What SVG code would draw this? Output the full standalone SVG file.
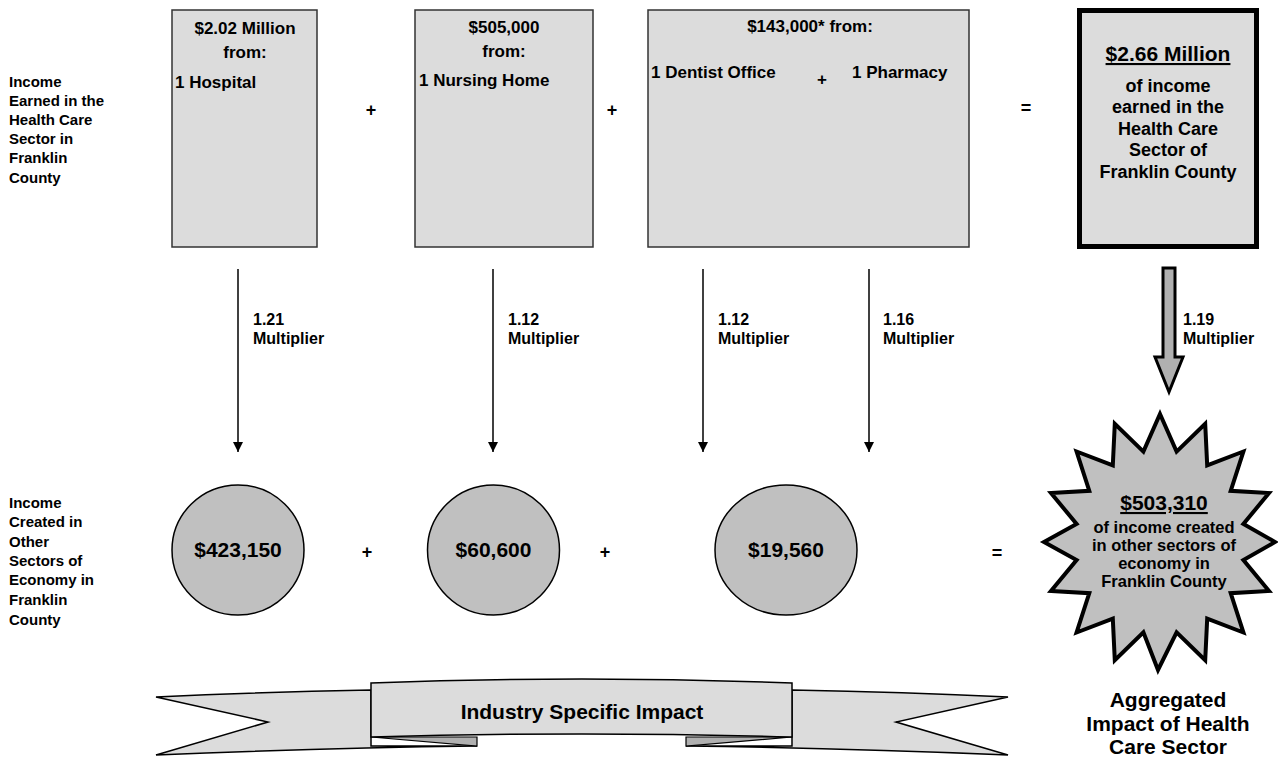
<svg xmlns="http://www.w3.org/2000/svg" width="1278" height="759" viewBox="0 0 1278 759">
<style>
text{font-family:"Liberation Sans",Arial,sans-serif;font-weight:bold;fill:#000}
.lbl{font-size:15px}
.bx{font-size:17px}
.bx4{font-size:18px;text-anchor:middle}
.mid{text-anchor:middle}
.mul{font-size:16px}
.op{font-size:18px;text-anchor:middle}
.box{fill:#dcdcdc;stroke:#333;stroke-width:1.5}
.circ{fill:#c0c0c0;stroke:#000;stroke-width:1.5}
.line{stroke:#000;stroke-width:1.5;fill:none}
.u{text-decoration:underline}
.star{font-size:16.5px;text-anchor:middle}
</style>
<defs>
<marker id="ah" markerWidth="10" markerHeight="10" refX="10" refY="5" orient="auto" markerUnits="userSpaceOnUse" viewBox="0 0 10 10">
<path d="M0,0 L10,5 L0,10 Z" fill="#000"/>
</marker>
</defs>
<rect width="1278" height="759" fill="#fff"/>

<g id="label-earned">
<text class="lbl" x="9" y="87">Income</text>
<text class="lbl" x="9" y="106">Earned in the</text>
<text class="lbl" x="9" y="125">Health Care</text>
<text class="lbl" x="9" y="144">Sector in</text>
<text class="lbl" x="9" y="163">Franklin</text>
<text class="lbl" x="9" y="183">County</text>
</g>

<g id="box-hospital">
<rect class="box" x="172" y="10" width="145" height="237"/>
<text class="bx mid" x="245" y="34">$2.02 Million</text>
<text class="bx mid" x="245" y="58">from:</text>
<text class="bx" x="175" y="88">1 Hospital</text>
</g>

<g id="box-nursing">
<rect class="box" x="415" y="10" width="178" height="237"/>
<text class="bx mid" x="504" y="33">$505,000</text>
<text class="bx mid" x="504" y="57">from:</text>
<text class="bx" x="419" y="86">1 Nursing Home</text>
</g>

<g id="box-dentist-pharmacy">
<rect class="box" x="648" y="10" width="321" height="237"/>
<text class="bx mid" x="810" y="32">$143,000* from:</text>
<text class="bx" x="651" y="78">1 Dentist Office</text>
<text class="bx mid" x="822" y="85">+</text>
<text class="bx" x="852" y="78">1 Pharmacy</text>
</g>

<g id="box-total">
<rect x="1079.5" y="10.5" width="177" height="236" fill="#dcdcdc" stroke="#000" stroke-width="5"/>
<text class="mid u" x="1168" y="61" font-size="21">$2.66 Million</text>
<text class="bx4" x="1168" y="92">of income</text>
<text class="bx4" x="1168" y="113">earned in the</text>
<text class="bx4" x="1168" y="135">Health Care</text>
<text class="bx4" x="1168" y="156">Sector of</text>
<text class="bx4" x="1168" y="178">Franklin County</text>
</g>

<g id="operators-top">
<text class="op" x="371" y="116">+</text>
<text class="op" x="612" y="116">+</text>
<text class="op" x="1026" y="114">=</text>
</g>

<g id="connectors">
<line class="line" x1="238" y1="269" x2="238" y2="452" marker-end="url(#ah)"/>
<line class="line" x1="493" y1="269" x2="493" y2="452" marker-end="url(#ah)"/>
<line class="line" x1="703" y1="269" x2="703" y2="452" marker-end="url(#ah)"/>
<line class="line" x1="869" y1="269" x2="869" y2="452" marker-end="url(#ah)"/>
<polygon points="1163,268 1175,268 1175,357 1183,357 1169,392 1155,357 1163,357" fill="#b0b0b0" stroke="#000" stroke-width="3" stroke-linejoin="miter"/>
</g>

<g id="multipliers">
<text class="mul" x="253" y="325">1.21</text>
<text class="mul" x="253" y="344">Multiplier</text>
<text class="mul" x="508" y="325">1.12</text>
<text class="mul" x="508" y="344">Multiplier</text>
<text class="mul" x="718" y="325">1.12</text>
<text class="mul" x="718" y="344">Multiplier</text>
<text class="mul" x="883" y="325">1.16</text>
<text class="mul" x="883" y="344">Multiplier</text>
<text class="mul" x="1183" y="325">1.19</text>
<text class="mul" x="1183" y="344">Multiplier</text>
</g>

<g id="label-created">
<text class="lbl" x="9" y="508">Income</text>
<text class="lbl" x="9" y="527">Created in</text>
<text class="lbl" x="9" y="547">Other</text>
<text class="lbl" x="9" y="566">Sectors of</text>
<text class="lbl" x="9" y="585">Economy in</text>
<text class="lbl" x="9" y="605">Franklin</text>
<text class="lbl" x="9" y="625">County</text>
</g>

<g id="circle-hospital">
<ellipse class="circ" cx="238" cy="550" rx="66" ry="65"/>
<text class="mid" x="238" y="557" font-size="21">$423,150</text>
</g>
<g id="circle-nursing">
<ellipse class="circ" cx="493.5" cy="550" rx="66" ry="65"/>
<text class="mid" x="493.5" y="557" font-size="21">$60,600</text>
</g>
<g id="circle-dentist-pharmacy">
<ellipse class="circ" cx="786" cy="550" rx="71" ry="65"/>
<text class="mid" x="786" y="557" font-size="21">$19,560</text>
</g>

<g id="operators-bottom">
<text class="op" x="367" y="558">+</text>
<text class="op" x="605" y="558">+</text>
<text class="op" x="997" y="559">=</text>
</g>

<g id="starburst-total">
<polygon points="1160,414 1176.6,451.6 1205.2,423.7 1207.2,465.3 1243.4,451.5 1230.7,490.8 1269,493 1243.4,524 1275,542 1243.4,560 1269,591 1230.7,593.2 1243.4,632.5 1207.2,618.7 1205.2,660.3 1176.6,632.4 1158,670 1143.4,632.4 1114.8,660.3 1112.8,618.7 1076.6,632.5 1089.3,593.2 1051,591 1076.6,560 1044,542 1076.6,524 1051,493 1089.3,490.8 1076.6,451.5 1112.8,465.3 1114.8,423.7 1143.4,451.6" fill="#c0c0c0" stroke="#000" stroke-width="4" stroke-linejoin="miter" stroke-miterlimit="8"/>
<text class="mid u" x="1164" y="510" font-size="21">$503,310</text>
<text class="star" x="1164" y="533">of income created</text>
<text class="star" x="1164" y="551">in other sectors of</text>
<text class="star" x="1164" y="569">economy in</text>
<text class="star" x="1164" y="587">Franklin County</text>
</g>

<g id="label-aggregated">
<text class="mid" x="1168" y="707" font-size="21">Aggregated</text>
<text class="mid" x="1168" y="731" font-size="21">Impact of Health</text>
<text class="mid" x="1168" y="754" font-size="21">Care Sector</text>
</g>

<g id="banner">
<path d="M477,746 Q320,748 156,755 L268,722 L156,697 Q260,692 371,690 L371,746 Z" fill="#dcdcdc" stroke="#000" stroke-width="1.5" stroke-linejoin="miter"/>
<path d="M686,746 Q843,748 1008,755 L896,722 L1008,697 Q904,692 792,690 L792,746 Z" fill="#dcdcdc" stroke="#000" stroke-width="1.5" stroke-linejoin="miter"/>
<path d="M371,737 L477,737 L477,746 Z" fill="#b0b0b0" stroke="#000" stroke-width="1.2"/>
<path d="M792,737 L686,737 L686,746 Z" fill="#b0b0b0" stroke="#000" stroke-width="1.2"/>
<path d="M371,683 Q582,675 792,683 L792,737 Q582,731 371,737 Z" fill="#dcdcdc" stroke="#000" stroke-width="1.5"/>
<text class="mid" x="582" y="719" font-size="21">Industry Specific Impact</text>
</g>
</svg>
